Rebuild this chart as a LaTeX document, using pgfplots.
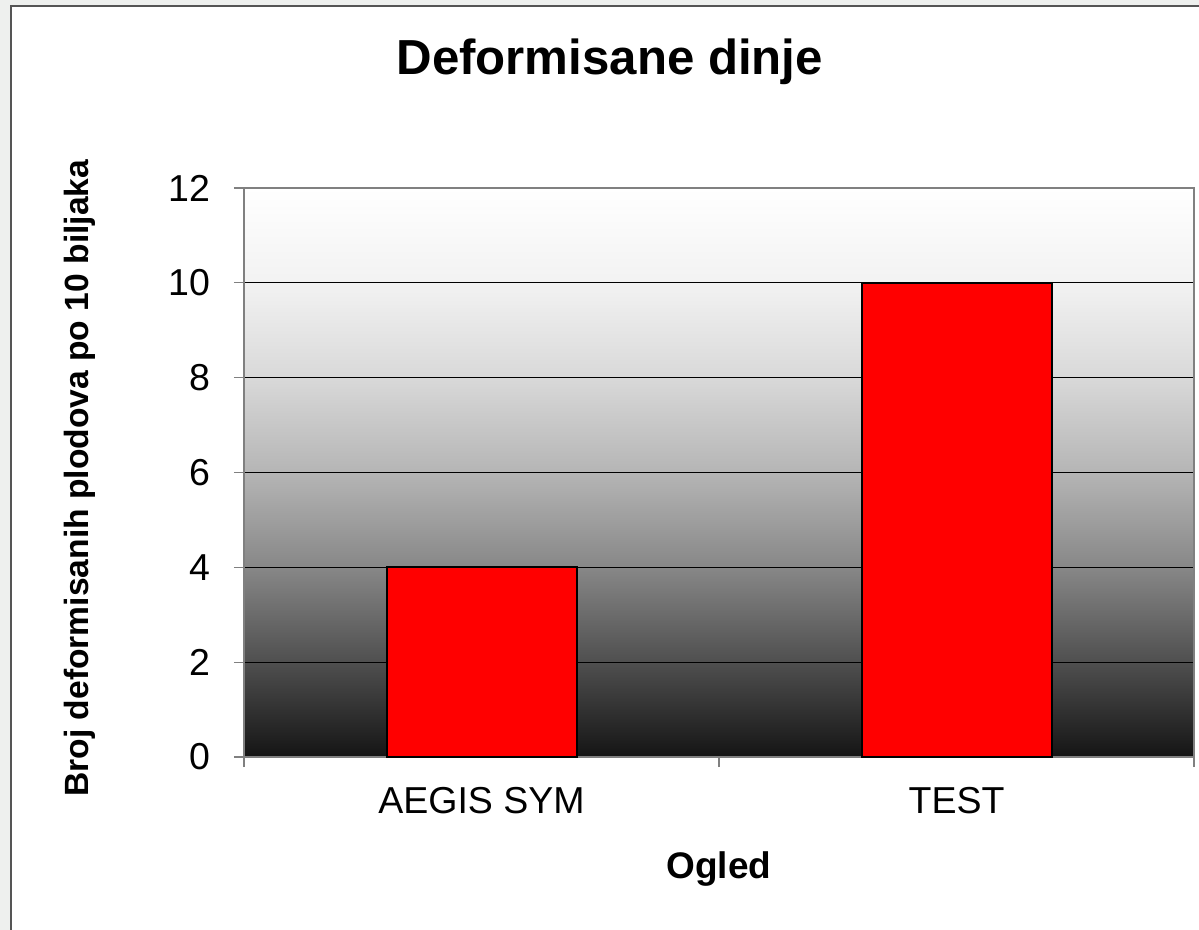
\documentclass[border=0pt]{standalone}
\usepackage{pgfplots}
\pgfplotsset{compat=1.18}
\usepackage{fontspec}
\setmainfont{Liberation Sans}
\definecolor{bggray}{HTML}{EEF0EE}
\definecolor{framegray}{HTML}{555555}
\definecolor{axisgray}{HTML}{808080}
\pgfdeclareverticalshading{plotbg}{100bp}{%
  color(0bp)=(black!92);
  color(25bp)=(black!92);
  color(33.33bp)=(black!69);
  color(41.67bp)=(black!47);
  color(50bp)=(black!29);
  color(58.33bp)=(black!15);
  color(66.67bp)=(black!5);
  color(75bp)=(white);
  color(100bp)=(white)}
\begin{document}
\begin{tikzpicture}
\useasboundingbox (0,0) rectangle (599.5pt,-465pt);
\begin{scope}[x=0.5pt,y=-0.5pt]
\fill[bggray] (0,0) rectangle (1199,930);
\fill[white] (11,6) rectangle (1199,930);
\draw[framegray, line width=0.8pt] (11,930) -- (11,6) -- (1199,6);
\end{scope}
\begin{axis}[
  at={(122pt,-378.5pt)}, anchor=south west,
  width=475pt, height=284.5pt, scale only axis,
  xmin=-0.5, xmax=1.5, ymin=0, ymax=12,
  ytick={0,2,4,6,8,10,12},
  xtick={-0.5,0.5,1.5}, xticklabels={},
  extra x ticks={0,1},
  extra x tick labels={AEGIS SYM,TEST},
  extra x tick style={major tick length=0pt, grid=none},
  ymajorgrids,
  major grid style={black, line width=0.5pt},
  axis line style={axisgray, line width=1pt},
  tick style={axisgray, line width=0.6pt},
  major tick length=5pt,
  tick align=outside,
  xtick pos=bottom, ytick pos=left,
  axis background/.style={shading=plotbg},
  ticklabel style={font=\fontsize{18.75}{20}\selectfont},
  /pgf/number format/assume math mode=true,
  xticklabel style={yshift=-11.5pt},
  yticklabel style={xshift=-8.5pt},
  title={\bfseries Deformisane dinje},
  title style={font=\fontsize{24.6}{27}\selectfont, at={(axis description cs:0.385,1.23)}, anchor=center, yshift=-8.5pt},
  xlabel={\bfseries Ogled},
  xlabel style={font=\fontsize{18.5}{20}\selectfont, at={(axis description cs:0.5,-0.197)}, anchor=center},
  ylabel={\bfseries Broj deformisanih plodova po 10 biljaka},
  ylabel style={font=\fontsize{16.8}{18}\selectfont, at={(axis description cs:-0.1726,0.49)}, anchor=center, rotate=0},
  bar width=0.4,
]
\addplot[ybar, fill=red, draw=black, line width=1pt] coordinates {(0,4) (1,10)};
\end{axis}
\end{tikzpicture}
\end{document}
